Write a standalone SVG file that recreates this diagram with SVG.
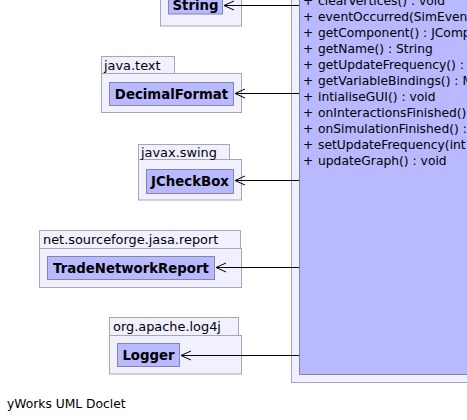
<svg xmlns="http://www.w3.org/2000/svg" width="467" height="420" viewBox="0 0 467 420">
<style>
.pkg{fill:#f0f0ff;stroke:#a6a6b8;stroke-width:1}
.cls{fill:#b9b9ff;stroke:#8484b0;stroke-width:1}
.plab{font-family:"DejaVu Sans",sans-serif;font-size:12.9px;fill:#000}
.cname{font-family:"DejaVu Sans",sans-serif;font-size:13.3px;font-weight:bold;fill:#000;text-anchor:middle}
.meth{font-family:"DejaVu Sans",sans-serif;font-size:12.3px;fill:#000}
.edge{fill:none;stroke:#000;stroke-width:1}
</style>
<rect width="467" height="420" fill="#fff"/>
<g id="main-package">
<rect class="pkg" x="291.5" y="-50" width="220" height="432.5"/>
<rect class="cls" x="299.5" y="-50" width="220" height="424.5"/>
<g class="meth">
<text x="303" y="5">+</text><text x="318" y="5">clearVertices() : void</text>
<text x="303" y="21">+</text><text x="318" y="21">eventOccurred(SimEvent) : void</text>
<text x="303" y="37">+</text><text x="318" y="37">getComponent() : JComponent</text>
<text x="303" y="53">+</text><text x="318" y="53">getName() : String</text>
<text x="303" y="69">+</text><text x="318" y="69">getUpdateFrequency() : int</text>
<text x="303" y="85">+</text><text x="318" y="85">getVariableBindings() : Map</text>
<text x="303" y="101">+</text><text x="318" y="101">intialiseGUI() : void</text>
<text x="303" y="117">+</text><text x="318" y="117">onInteractionsFinished() : void</text>
<text x="303" y="133">+</text><text x="318" y="133">onSimulationFinished() : void</text>
<text x="303" y="149">+</text><text x="318" y="149">setUpdateFrequency(int) : void</text>
<text x="303" y="165">+</text><text x="318" y="165">updateGraph() : void</text>
</g>
</g>
<g id="pkg-java-lang">
<rect class="pkg" x="160.5" y="-30" width="81" height="56"/>
<rect class="cls" x="168.5" y="-10" width="54" height="24"/>
<text class="cname" x="195.5" y="10">String</text>
</g>
<g id="pkg-java-text">
<rect class="pkg" x="101.5" y="56.5" width="73" height="17"/>
<rect class="pkg" x="101.5" y="73.5" width="140" height="39"/>
<text class="plab" x="104" y="69.5">java.text</text>
<rect class="cls" x="109.5" y="82.5" width="124" height="23"/>
<text class="cname" x="171.5" y="98.5">DecimalFormat</text>
</g>
<g id="pkg-javax-swing">
<rect class="pkg" x="138.5" y="144.5" width="91" height="15"/>
<rect class="pkg" x="138.5" y="159.5" width="103" height="40.5"/>
<text class="plab" x="141" y="157">javax.swing</text>
<rect class="cls" x="146.5" y="169.5" width="87" height="24"/>
<text class="cname" x="190" y="186">JCheckBox</text>
</g>
<g id="pkg-jasa-report">
<rect class="pkg" x="39.5" y="230.5" width="201" height="18"/>
<rect class="pkg" x="39.5" y="248.5" width="202" height="39"/>
<text class="plab" x="43" y="243.5">net.sourceforge.jasa.report</text>
<rect class="cls" x="47.5" y="256.5" width="167" height="23"/>
<text class="cname" x="131" y="273">TradeNetworkReport</text>
</g>
<g id="pkg-log4j">
<rect class="pkg" x="109.5" y="317.5" width="129" height="18"/>
<rect class="pkg" x="109.5" y="335.5" width="132" height="38.5"/>
<text class="plab" x="113" y="330.5">org.apache.log4j</text>
<rect class="cls" x="117.5" y="343.5" width="62" height="23"/>
<text class="cname" x="148.5" y="360">Logger</text>
</g>
<g id="connectors" class="edge">
<path d="M299 5.5H224M234 1L224 5.5L234 10"/>
<path d="M299 93.5H235M245 89L235 93.5L245 98"/>
<path d="M299 180.5H235M245 176L235 180.5L245 185"/>
<path d="M299 267.5H216M226 263L216 267.5L226 272"/>
<path d="M299 355.5H181M191 351L181 355.5L191 360"/>
</g>
<text class="meth" x="7" y="408">yWorks UML Doclet</text>
</svg>
